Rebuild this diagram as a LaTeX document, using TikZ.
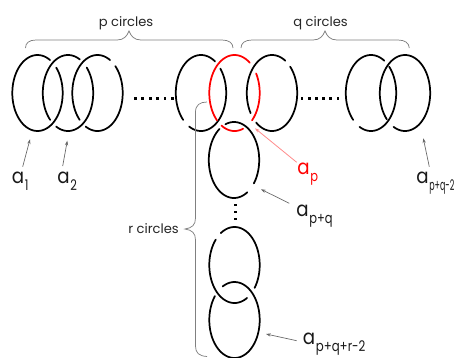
\documentclass[tikz,border=0pt]{standalone}
\usepackage{fontspec}
\setmainfont{Poppins}
\usetikzlibrary{arrows.meta}
\newcommand{\ringarc}[5][knot]{\draw[#1] plot[domain=#4:#5,samples=70,smooth] ({#2+25.2*cos(\x)},{#3-38*sin(\x)});}
\newcommand{\sublab}[2][.78]{\scalebox{.88}[1]{\fontsize{15.5}{16}\selectfont a}\hspace{.6pt}\raisebox{-5.6pt}{\scalebox{#1}[1]{\fontsize{11}{12}\selectfont #2}}}
\tikzset{
  knot/.style={line width=1.3pt,line cap=round,black},
  redknot/.style={knot,draw=red},
  bracket/.style={draw=black!50,line width=.55pt},
  pointer/.style={draw=black!60,line width=.5pt,-{Stealth[length=3.5pt,width=2.4pt]}},
  redpointer/.style={draw=red!45,line width=.6pt,-{Stealth[length=3.5pt,width=2.4pt]}},
  lab/.style={inner sep=0pt,anchor=base west,text=black!90},
  captext/.style={inner sep=0pt,anchor=base,text=black!85,font=\fontsize{9.8}{11}\selectfont},
  dotmark/.style={fill=black,rectangle,minimum size=2.1pt,inner sep=0pt,draw=none}
}
\begin{document}
\begin{tikzpicture}[x=.75pt,y=-.75pt]
\useasboundingbox (0,0) rectangle (455,358);
\fill[white] (0,0) rectangle (455,358);
% p chain
\ringarc{37.5}{93}{60}{402}
\ringarc{68}{93}{62}{225}
\ringarc{68}{93}{242}{402}
\ringarc{97.5}{93}{60}{225}
\ringarc{97.5}{93}{242}{405}
\ringarc{201}{93}{56}{225}
\ringarc{201}{93}{242}{400}
% red ring
\ringarc[redknot]{234.5}{93}{53}{226}
\ringarc[redknot]{234.5}{93}{239}{290}
\ringarc[redknot]{234.5}{93}{314}{391}
% q chain
\ringarc{272}{93}{58}{212}
\ringarc{272}{93}{231}{404}
\ringarc{371}{93}{58}{225}
\ringarc{371}{93}{243}{404}
\ringarc{405}{93}{243}{584}
% r chain
\ringarc{234}{160}{-38}{110}
\ringarc{234}{160}{125}{302}
\ringarc{234.5}{265}{-37}{123}
\ringarc{234.5}{265}{138}{300}
\ringarc{234.5}{320}{141}{478}
% dots
\foreach \i in {0,...,5} {\node[dotmark] (pd\i) at (135.5+7.4*\i,98.5) {}; \node[dotmark] (qd\i) at (302+7.2*\i,98.5) {};}
\foreach \i/\yy in {0/205,1/212,2/219} {\node[dotmark] (rd\i) at (235.3,\yy) {};}
% braces
\draw[bracket] (25.5,48) .. controls (25.5,43) and (29,40) .. (36,40) -- (117,40) .. controls (124,40) and (127,36) .. (129,31) .. controls (131,36) and (134,40) .. (141,40) -- (222,40) .. controls (229,40) and (233,43) .. (233,48);
\draw[bracket] (241,48) .. controls (241,43) and (245,40) .. (252,40) -- (313,40) .. controls (320,40) and (323,36) .. (325,31) .. controls (327,36) and (330,40) .. (337,40) -- (398,40) .. controls (405,40) and (409,43) .. (409.3,48);
\draw[bracket] (207,102) .. controls (200,102) and (195.5,105) .. (195.5,112) -- (195.5,218) .. controls (195.5,225) and (192,228) .. (185,229) .. controls (192,230) and (195.5,233) .. (195.5,240) -- (195.5,346) .. controls (195.5,353) and (199,356) .. (207,356.5);
\node[captext] (pc) at (126,26) {p circles};
\node[captext] (qc) at (320.5,26) {q circles};
\node[captext] (rc) at (153.5,233) {r circles};
% labels
\node[lab] (a1) at (11.5,183) {\sublab{1}};
\node[lab] (a2) at (57,183) {\sublab{2}};
\node[lab,text=red] (ap) at (297,174.5) {\sublab{p}};
\node[lab] (apq) at (296,216) {\sublab{p+q}};
\node[lab] (aL) at (416,183) {\sublab[.54]{p+q-2}};
\node[lab] (apqr) at (302.5,344.5) {\sublab[.8]{p+q+r-2}};
% pointers
\coordinate (t1) at (30,139.3); \coordinate (s1) at (22.7,166.7);
\coordinate (t2) at (67.3,140.7); \coordinate (s2) at (62.7,166);
\coordinate (tp) at (255,128.3); \coordinate (sp) at (296.7,162.3);
\coordinate (tq) at (261,189.3); \coordinate (sq) at (289.3,203.3);
\coordinate (tr) at (266,334); \coordinate (sr) at (296.7,340.7);
\coordinate (tl) at (423.3,138.3); \coordinate (sl) at (429.3,166.7);
\draw[pointer] (s1) -- (t1);
\draw[pointer] (s2) -- (t2);
\draw[redpointer] (sp) -- (tp);
\draw[pointer] (sq) -- (tq);
\draw[pointer] (sr) -- (tr);
\draw[pointer] (sl) -- (tl);
\end{tikzpicture}
\end{document}
